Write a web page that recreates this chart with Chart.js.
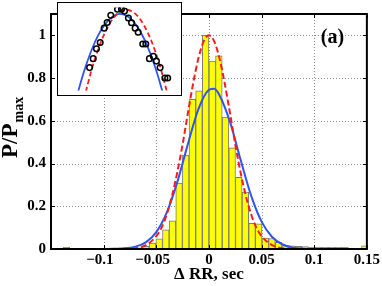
<!DOCTYPE html>
<html><head><meta charset="utf-8">
<script src="https://cdn.jsdelivr.net/npm/chart.js@4/dist/chart.umd.min.js"></script>
<style>
html,body{margin:0;padding:0;background:#fff;}
#wrap{position:relative;width:382px;height:286px;overflow:hidden;}
#main{position:absolute;left:0;top:0;}
#inset{position:absolute;left:57px;top:2px;}
</style></head><body>
<div id="wrap"><canvas id="main" width="382" height="286"></canvas><canvas id="inset" width="125" height="94"></canvas></div>
<script>
// ---- histogram (bin centres in sec, normalised heights) ----
const binCenters = [-0.13545,-0.12915,-0.12285,-0.11655,-0.11025,-0.10395,-0.09765,-0.09135,-0.08505,-0.07875,
  -0.07245,-0.06615,-0.05985,-0.05355,-0.04725,-0.04095,-0.03465,-0.02835,-0.02205,-0.01575,-0.00945,-0.00315,
  0.00315,0.00945,0.01575,0.02205,0.02835,0.03465,0.04095,0.04725,0.05355,0.05985,0.06615,0.07245,0.07875,
  0.08505,0.09135,0.09765,0.10395,0.11025,0.11655,0.12285,0.12915,0.13545,0.14175,0.14805];
const binHeights = [0.008,0,0,0,0,0,0.004,0.004,0,0,
  0.003,0.006,0.013,0.028,0.048,0.090,0.132,0.308,0.440,0.700,0.740,1.000,
  0.880,0.904,0.617,0.474,0.336,0.266,0.120,0.118,0.051,0.049,0.031,0.016,0.015,
  0.012,0.011,0.008,0.008,0.008,0.008,0.008,0.008,0,0,0.015];

// ---- blue solid curve ----
const blueX = [-0.15,-0.1,-0.09,-0.08,-0.07,-0.06,-0.05,-0.04,-0.03,-0.02,-0.01,0,0.005,0.01,0.02,0.03,0.04,0.05,0.06,0.07,0.08,0.09,0.1,0.15];
const blueY = [0,0,0.001,0.003,0.011,0.031,0.079,0.171,0.314,0.491,0.655,0.745,0.75,0.72,0.595,0.419,0.251,0.128,0.056,0.021,0.0065,0.0017,0,0];

// ---- red dashed curve ----
const redX = [-0.15,-0.08,-0.07,-0.06,-0.05,-0.045,-0.04,-0.035,-0.03,-0.025,-0.02,-0.015,-0.01,-0.005,0,0.005,0.01,0.015,0.02,0.025,0.03,0.035,0.04,0.045,0.05,0.06,0.07,0.08,0.15];
const redY = [0,0.0007,0.004,0.018,0.06,0.1,0.163,0.25,0.36,0.49,0.636,0.775,0.893,0.972,1.0,0.972,0.893,0.775,0.636,0.49,0.36,0.25,0.163,0.1,0.06,0.018,0.004,0.0007,0];

// ---- axes ----
const xTickValues = [-0.1,-0.05,0,0.05,0.1,0.15];
const xTickLabels = ['\u22120.1\u2002','\u22120.05\u2002','0','0.05','0.1','0.15'];
const yTickValues = [0,0.2,0.4,0.6,0.8,1];
const yTickLabels = ['0','0.2','0.4','0.6','0.8','1'];
const xTitle = '\u0394 RR, sec';
const yTitleMain = 'P/P';
const yTitleSub = 'max';
const panelLabel = '(a)';

// ---- inset (log of P/Pmax near the peak) ----
const insetDotX = [-0.042,-0.0369,-0.0323,-0.0271,-0.0215,-0.0173,-0.0122,-0.0028,0.0028,0.007,0.0125,0.0169,0.022,0.0262,0.0326,0.0369,0.042,0.0476,0.0518,0.057,0.0637,0.0676];
const insetDotY = [-2.58,-2.18,-1.74,-1.46,-0.82,-0.57,-0.25,0.02,0.02,-0.06,-0.37,-0.58,-0.82,-1.0,-1.53,-1.53,-2.18,-2.08,-2.29,-2.58,-3.04,-3.04];
const insetRedX = [-0.05,-0.04,-0.03,-0.02,-0.01,0,0.01,0.02,0.03,0.04,0.05,0.06,0.07];
const insetRedY = [-4.01,-2.77,-1.77,-0.99,-0.43,-0.10,0,-0.12,-0.47,-1.04,-1.84,-2.86,-4.11];
const insetBlueX = [-0.07,-0.06,-0.05,-0.04,-0.03,-0.02,-0.01,0,0.01,0.02,0.03,0.04,0.05,0.06,0.07];
const insetBlueY = [-5.19,-3.88,-2.77,-1.86,-1.145,-0.628,-0.309,-0.188,-0.265,-0.541,-1.014,-1.686,-2.555,-3.62,-4.89];

const SERIF = "'Liberation Serif', 'Times New Roman', serif";
const BLUE = '#2f55f0';
const RED = '#ff1a1a';
const pts = (xs, ys) => xs.map((x, i) => ({x, y: ys[i]}));

const mainDecor = {
  id: 'mainDecor',
  beforeDraw(c) {
    const ctx = c.ctx; ctx.save(); ctx.fillStyle = '#fff'; ctx.fillRect(0, 0, c.width, c.height); ctx.restore();
  },
  beforeDatasetsDraw(c) {
    const {ctx, chartArea: a, scales: {x, y}} = c;
    ctx.save();
    ctx.strokeStyle = '#8c8c8c'; ctx.lineWidth = 1; ctx.setLineDash([1, 2]);
    ctx.beginPath();
    xTickValues.forEach(v => {
      const px = Math.round(x.getPixelForValue(v)) + 0.5;
      if (px > a.left + 2 && px < a.right - 2) { ctx.moveTo(px, a.bottom); ctx.lineTo(px, a.top); }
    });
    yTickValues.forEach(v => {
      const py = Math.round(y.getPixelForValue(v)) + 0.5;
      if (py > a.top + 2 && py < a.bottom - 2) { ctx.moveTo(a.left, py); ctx.lineTo(a.right, py); }
    });
    ctx.stroke();
    ctx.restore();
  },
  afterDatasetsDraw(c) {
    const {ctx, chartArea: a, scales: {x, y}} = c;
    ctx.save();
    ctx.strokeStyle = '#000'; ctx.lineWidth = 1;
    ctx.beginPath();
    xTickValues.forEach(v => {
      const px = Math.round(x.getPixelForValue(v)) + 0.5;
      ctx.moveTo(px, a.bottom); ctx.lineTo(px, a.bottom - 4);
      ctx.moveTo(px, a.top); ctx.lineTo(px, a.top + 4);
    });
    yTickValues.forEach(v => {
      const py = Math.round(y.getPixelForValue(v)) + 0.5;
      ctx.moveTo(a.left, py); ctx.lineTo(a.left + 4, py);
      ctx.moveTo(a.right, py); ctx.lineTo(a.right - 4, py);
    });
    ctx.stroke();
    ctx.lineWidth = 2;
    ctx.strokeRect(a.left, a.top, a.right - a.left, a.bottom - a.top);
    ctx.restore();
  },
  afterDraw(c) {
    const {ctx, chartArea: a} = c;
    ctx.save();
    ctx.fillStyle = '#000';
    ctx.font = 'bold 20px ' + SERIF;
    ctx.textAlign = 'center'; ctx.textBaseline = 'middle';
    ctx.fillText(panelLabel, 332.5, 38);
    ctx.font = 'bold 17px ' + SERIF;
    ctx.textAlign = 'center'; ctx.textBaseline = 'alphabetic';
    ctx.fillText(xTitle, (a.left + a.right) / 2, 279);
    ctx.translate(17, 158);
    ctx.rotate(-Math.PI / 2);
    ctx.textAlign = 'left';
    ctx.font = 'bold 23px ' + SERIF;
    ctx.fillText(yTitleMain, 0, 0);
    const w = ctx.measureText(yTitleMain).width;
    ctx.font = 'bold 14px ' + SERIF;
    ctx.fillText(yTitleSub, w + 1, 6);
    ctx.restore();
  }
};

new Chart(document.getElementById('main'), {
  type: 'line',
  data: {
    datasets: [
      {type: 'line', data: pts(redX, redY), borderColor: RED, borderWidth: 2, borderDash: [6, 3],
       pointRadius: 0, cubicInterpolationMode: 'monotone', order: 0},
      {type: 'line', data: pts(blueX, blueY), borderColor: BLUE, borderWidth: 2,
       pointRadius: 0, cubicInterpolationMode: 'monotone', order: 1},
      {type: 'bar', data: pts(binCenters, binHeights), backgroundColor: '#ffff00', borderColor: '#7a7a7a',
       borderWidth: 1, barPercentage: 1, categoryPercentage: 1, order: 2}
    ]
  },
  options: {
    responsive: false, animation: false, events: [],
    layout: {padding: {top: 3, right: 15, left: 0, bottom: 0}},
    plugins: {legend: {display: false}, tooltip: {enabled: false}},
    scales: {
      x: {
        type: 'linear', min: -0.15, max: 0.15, offset: false,
        afterFit: s => { s.height = 37; },
        afterBuildTicks: s => { s.ticks = xTickValues.map(v => ({value: v})); },
        ticks: {
          autoSkip: false, maxRotation: 0, padding: 2, color: '#000',
          font: {family: SERIF, size: 15, weight: 'bold'},
          callback: (v) => { const i = xTickValues.findIndex(t => Math.abs(t - v) < 1e-9); return i >= 0 ? xTickLabels[i] : ''; }
        },
        grid: {display: false, offset: false, drawTicks: false},
        border: {display: false}
      },
      y: {
        type: 'linear', min: 0, max: 1.1,
        afterFit: s => { s.width = 51; },
        afterBuildTicks: s => { s.ticks = yTickValues.map(v => ({value: v})); },
        ticks: {
          autoSkip: false, padding: 5, color: '#000',
          font: {family: SERIF, size: 15, weight: 'bold'},
          callback: (v) => { const i = yTickValues.findIndex(t => Math.abs(t - v) < 1e-9); return i >= 0 ? yTickLabels[i] : ''; }
        },
        grid: {display: false, drawTicks: false},
        border: {display: false}
      }
    }
  },
  plugins: [mainDecor]
});

const insetDecor = {
  id: 'insetDecor',
  beforeDraw(c) {
    const ctx = c.ctx; ctx.save(); ctx.fillStyle = '#fff'; ctx.fillRect(0, 0, c.width, c.height); ctx.restore();
  },
  afterDraw(c) {
    const ctx = c.ctx; ctx.save(); ctx.strokeStyle = '#000'; ctx.lineWidth = 1;
    ctx.strokeRect(0.5, 0.5, c.width - 1, c.height - 1); ctx.restore();
  }
};

new Chart(document.getElementById('inset'), {
  type: 'line',
  data: {
    datasets: [
      {type: 'scatter', data: pts(insetDotX, insetDotY), pointStyle: 'circle', pointRadius: 2.8,
       borderColor: '#000', borderWidth: 1.5, backgroundColor: 'rgba(255,255,255,0)', order: 0},
      {type: 'line', data: pts(insetRedX, insetRedY), borderColor: RED, borderWidth: 1.8, borderDash: [5, 3],
       pointRadius: 0, cubicInterpolationMode: 'monotone', order: 1},
      {type: 'line', data: pts(insetBlueX, insetBlueY), borderColor: BLUE, borderWidth: 1.8,
       pointRadius: 0, cubicInterpolationMode: 'monotone', order: 2}
    ]
  },
  options: {
    responsive: false, animation: false, events: [],
    layout: {padding: 0},
    plugins: {legend: {display: false}, tooltip: {enabled: false}},
    scales: {
      x: {type: 'linear', min: -0.08, max: 0.08, display: false},
      y: {type: 'linear', min: -3.6, max: 0.1, display: false}
    }
  },
  plugins: [insetDecor]
});
</script>
</body></html>
